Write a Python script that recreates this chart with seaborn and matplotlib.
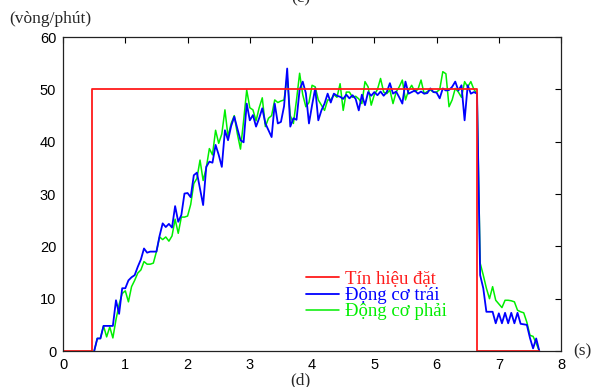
import matplotlib
matplotlib.use("Agg")
import matplotlib.pyplot as plt
import seaborn as sns
import pandas as pd
from matplotlib.lines import Line2D

# ---------------- data ----------------
set_t = [0.0, 0.47, 0.47, 6.65, 6.65, 7.65]
set_v = [0, 0, 50, 50, 0, 0]

time_s = [
    0.50, 0.55, 0.60, 0.65, 0.70, 0.75, 0.80, 0.85, 0.90, 0.95,
    1.00, 1.05, 1.10, 1.15, 1.20, 1.25, 1.30, 1.35, 1.40, 1.45,
    1.50, 1.55, 1.60, 1.65, 1.70, 1.75, 1.80, 1.85, 1.90, 1.95,
    2.00, 2.05, 2.10, 2.15, 2.20, 2.25, 2.30, 2.35, 2.40, 2.45,
    2.50, 2.55, 2.60, 2.65, 2.70, 2.75, 2.80, 2.85, 2.90, 2.95,
    3.00, 3.05, 3.10, 3.15, 3.20, 3.25, 3.30, 3.35, 3.40, 3.45,
    3.50, 3.55, 3.60, 3.65, 3.70, 3.75, 3.80, 3.85, 3.90, 3.95,
    4.00, 4.05, 4.10, 4.15, 4.20, 4.25, 4.30, 4.35, 4.40, 4.45,
    4.50, 4.55, 4.60, 4.65, 4.70, 4.75, 4.80, 4.85, 4.90, 4.95,
    5.00, 5.05, 5.10, 5.15, 5.20, 5.25, 5.30, 5.35, 5.40, 5.45,
    5.50, 5.55, 5.60, 5.65, 5.70, 5.75, 5.80, 5.85, 5.90, 5.95,
    6.00, 6.05, 6.10, 6.15, 6.20, 6.25, 6.30, 6.35, 6.40, 6.45,
    6.50, 6.55, 6.60, 6.65, 6.70, 6.75, 6.80, 6.85, 6.90, 6.95,
    7.00, 7.05, 7.10, 7.15, 7.20, 7.25, 7.30, 7.35, 7.40, 7.45,
    7.50, 7.55, 7.60, 7.65,
]

left_motor = [
    0.0, 2.4, 2.4, 4.8, 4.8, 4.8, 4.8, 9.7, 7.1, 12.0,
    12.0, 13.5, 14.1, 14.5, 16.1, 17.5, 19.6, 18.8, 19.0, 19.0,
    19.0, 22.0, 24.4, 23.7, 24.3, 23.6, 27.7, 24.7, 26.0, 30.1,
    30.2, 29.4, 33.6, 34.1, 31.0, 27.9, 35.2, 36.2, 36.0, 39.4,
    37.5, 35.2, 42.2, 40.3, 43.0, 44.8, 42.5, 40.3, 39.9, 47.3,
    44.1, 45.1, 42.9, 44.5, 46.4, 43.5, 42.2, 40.9, 47.3, 43.5,
    43.8, 46.8, 54.0, 42.9, 44.5, 44.2, 50.0, 51.5, 49.3, 43.5,
    47.0, 50.2, 44.1, 46.0, 47.3, 49.2, 47.5, 49.2, 48.8, 48.6,
    48.2, 49.0, 48.3, 48.9, 48.2, 46.0, 49.0, 47.0, 49.5, 48.8,
    49.5, 48.9, 49.6, 48.8, 49.5, 51.2, 49.2, 49.6, 48.5, 47.3,
    51.5, 49.2, 49.5, 49.8, 49.2, 49.6, 49.2, 49.3, 50.2, 49.5,
    49.4, 48.3, 50.2, 49.8, 49.9, 50.5, 51.5, 49.8, 50.8, 44.1,
    50.8, 49.2, 49.5, 49.2, 14.5, 12.0, 7.5, 7.5, 7.5, 5.3,
    7.2, 5.3, 7.3, 5.3, 7.3, 5.3, 7.3, 5.2, 5.1, 5.0,
    2.5, 0.5, 2.4, 0.0,
]

right_motor = [
    0.0, 2.4, 2.4, 4.8, 2.7, 4.6, 2.5, 6.0, 8.9, 11.0,
    11.5, 9.4, 12.3, 13.5, 14.9, 15.5, 17.1, 16.6, 16.6, 16.8,
    19.0, 21.8, 21.3, 21.8, 21.0, 22.0, 25.2, 22.5, 25.6, 25.6,
    25.8, 28.0, 32.0, 33.0, 36.5, 32.6, 35.0, 38.7, 37.5, 42.2,
    39.7, 41.5, 46.1, 41.0, 43.5, 45.0, 41.5, 38.6, 44.0, 49.9,
    46.5, 46.1, 44.0, 46.5, 48.4, 42.9, 44.5, 45.0, 48.0, 47.5,
    47.8, 48.0, 52.5, 45.0, 43.5, 48.0, 53.1, 49.0, 46.7, 47.5,
    50.8, 50.5, 48.0, 47.0, 46.0, 48.0, 48.0, 49.0, 48.5, 51.1,
    46.0, 49.5, 49.5, 48.5, 48.7, 48.2, 47.3, 51.5, 50.5, 47.0,
    49.0, 50.0, 52.1, 49.5, 49.2, 49.9, 47.3, 49.5, 50.5, 51.8,
    48.0, 49.8, 50.8, 49.6, 50.0, 51.8, 49.2, 49.6, 49.9, 49.5,
    49.5, 50.0, 53.4, 53.0, 46.7, 48.0, 50.2, 49.5, 48.5, 51.5,
    50.5, 51.5, 50.0, 49.2, 16.8, 14.5, 12.0, 10.0, 12.3, 9.7,
    9.0, 8.3, 9.7, 9.7, 9.6, 9.4, 7.8, 7.5, 7.3, 5.5,
    3.0, 2.8, 1.5, 0.0,
]

labels = ["Tín hiệu đặt", "Động cơ trái", "Động cơ phải"]
x_ticks = [0, 1, 2, 3, 4, 5, 6, 7, 8]
y_ticks = [0, 10, 20, 30, 40, 50, 60]

assert len(time_s) == len(left_motor) == len(right_motor)

# ---------------- style ----------------
sns.set_style("white")
plt.rcParams["font.family"] = ["Liberation Sans", "DejaVu Sans"]

RED, BLUE, GREEN = "#ff1a1a", "#0000ff", "#00ee00"

fig = plt.figure(figsize=(5.95, 3.87), dpi=100)
ax = fig.add_axes([0.106, 0.093, 0.837, 0.811])

df_set = pd.DataFrame({"t": set_t, "v": set_v})
df_l = pd.DataFrame({"t": time_s, "v": left_motor})
df_r = pd.DataFrame({"t": time_s, "v": right_motor})

sns.lineplot(data=df_r, x="t", y="v", ax=ax, color=GREEN, lw=1.1,
             estimator=None, sort=False)
sns.lineplot(data=df_l, x="t", y="v", ax=ax, color=BLUE, lw=1.3,
             estimator=None, sort=False)
sns.lineplot(data=df_set, x="t", y="v", ax=ax, color=RED, lw=1.3,
             estimator=None, sort=False)

ax.set_xlim(0, 8)
ax.set_ylim(0, 60)
ax.set_xticks(x_ticks)
ax.set_yticks(y_ticks)
ax.set_xlabel("")
ax.set_ylabel("")
ax.tick_params(direction="in", length=4, width=0.8, top=True, right=True,
               labelsize=10.5, pad=5, colors="black")
for sp in ax.spines.values():
    sp.set_color("#222222")
    sp.set_linewidth(0.9)

serif = ["Liberation Serif", "DejaVu Serif"]

handles = [Line2D([], [], color=RED, lw=1.3),
           Line2D([], [], color=BLUE, lw=1.3),
           Line2D([], [], color=GREEN, lw=1.1)]
leg = ax.legend(handles, labels, loc="upper left",
                bbox_to_anchor=(0.462, 0.297), frameon=False,
                prop={"family": serif, "size": 13.5},
                handlelength=1.75, handletextpad=0.3, labelspacing=-0.05,
                borderpad=0.2)
for txt, c in zip(leg.get_texts(), [RED, BLUE, GREEN]):
    txt.set_color(c)

fig.text(0.015, 0.952, "(vòng/phút)", family=serif, fontsize=12.5,
         ha="left", va="center")
fig.text(0.963, 0.093, "(s)", family=serif, fontsize=12.5,
         ha="left", va="center")
fig.text(0.505, 0.017, "(d)", family=serif, fontsize=12.5,
         ha="center", va="center")
fig.text(0.505, 1.003, "(c)", family=serif, fontsize=12.5,
         ha="center", va="center")

fig.savefig("out.png", dpi=100, facecolor="white")
